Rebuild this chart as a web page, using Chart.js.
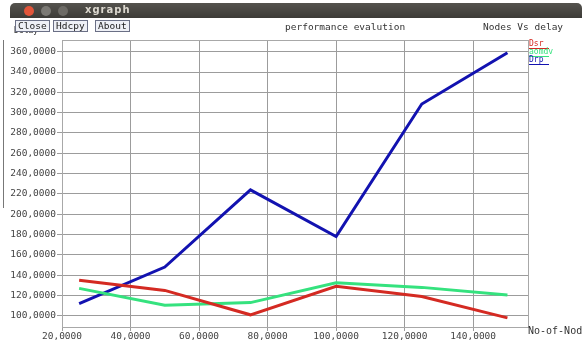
<!DOCTYPE html>
<html>
<head>
<meta charset="utf-8">
<script src="https://cdn.jsdelivr.net/npm/chart.js@4/dist/chart.umd.min.js"></script>
<style>
  html, body { margin: 0; padding: 0; background: #fff; }
  #wrap { position: relative; width: 582px; height: 342px; overflow: hidden; background: #fff; }
  #plot { position: absolute; left: 0; top: 0; }
  .mono { font-family: "DejaVu Sans Mono", monospace; font-size: 9.5px; color: #333; position: absolute; white-space: nowrap; }
  #titlebar { position: absolute; left: 10px; top: 3px; width: 572px; height: 15px;
    background: linear-gradient(#55534e, #3c3b37); border-radius: 5px 5px 0 0; }
  .dot { position: absolute; top: 3px; width: 10px; height: 10px; border-radius: 50%; }
  #appname { position: absolute; left: 75px; top: 1px; font: bold 10px "DejaVu Sans", sans-serif; color: #dcd8cf; letter-spacing: 1px; }
  .btn { position: absolute; top: 20px; height: 10px; border: 1px solid #6a6f85; background: #eef0f6;
    font-family: "DejaVu Sans Mono", monospace; font-size: 9.5px; line-height: 10px; color: #222; padding: 0 2px; z-index: 2; }
  .leg { position: absolute; left: 529px; font-family: "DejaVu Sans Mono", monospace; font-size: 8px; line-height: 8px; }
  .leg span { display: block; height: 1px; width: 20px; margin-top: 0; }
  #frame { position: absolute; left: 3px; top: 40px; width: 1px; height: 168px; background: #777; }
</style>
</head>
<body>
<div id="wrap">
  <canvas id="plot" width="582" height="342"></canvas>
  <div id="frame"></div>
  <div id="titlebar">
    <div class="dot" style="left:14px;background:#e2553a;"></div>
    <div class="dot" style="left:31px;background:#7b7974;"></div>
    <div class="dot" style="left:48px;background:#6c6a65;"></div>
    <div id="appname">xgraph</div>
  </div>
  <div class="btn" style="left:15px;">Close</div>
  <div class="btn" style="left:53px;">Hdcpy</div>
  <div class="btn" style="left:95px;">About</div>
  <div class="mono" style="left:14px;top:26px;font-size:8px;z-index:1;">Delay</div>
  <div class="mono" style="left:285px;top:21px;">performance evalution</div>
  <div class="mono" style="left:483px;top:21px;">Nodes Vs delay</div>
  <div class="mono" style="left:528px;top:325px;font-size:10px;">No-of-Nodes</div>
  <div id="legend"></div>
</div>
<script>
// x values (number of nodes) and delay series
const nodes = [25, 50, 75, 100, 125, 150];
const dsr = [135, 125, 101, 129, 119, 98];
const aomdv = [127, 110.5, 113, 132.5, 128, 120.5];
const drp = [112, 148, 224, 178, 308.5, 359];

const xTicks = [20, 40, 60, 80, 100, 120, 140];
const yTicks = [100, 120, 140, 160, 180, 200, 220, 240, 260, 280, 300, 320, 340, 360];

const seriesNames = ['Dsr', 'aomdv', 'Drp'];
const seriesColors = ['#d42a22', '#35e27e', '#1212b0'];

function toPoints(values) {
    return nodes.map((x, i) => ({ x: x, y: values[i] }));
}

// legend in the top right corner, xgraph style
const legend = document.getElementById('legend');
seriesNames.forEach((name, i) => {
    const item = document.createElement('div');
    item.className = 'leg';
    item.style.top = (40 + i * 8) + 'px';
    item.style.color = seriesColors[i];
    item.innerHTML = `${name}<span style="background:${seriesColors[i]}"></span>`;
    legend.appendChild(item);
});

// outline of the plot box (top and right edges)
const boxOutline = {
    id: 'boxOutline',
    beforeDatasetsDraw(chart) {
        const { ctx, chartArea: a } = chart;
        ctx.save();
        ctx.strokeStyle = '#a8a8a8';
        ctx.lineWidth = 1;
        ctx.strokeRect(a.left + 0.5, a.top + 0.5, a.right - a.left, a.bottom - a.top);
        ctx.restore();
    }
};

const tickFont = { family: "'DejaVu Sans Mono', monospace", size: 9.5 };

new Chart(document.getElementById('plot'), {
    type: 'line',
    data: {
        datasets: [dsr, aomdv, drp].map((values, i) => ({
            label: seriesNames[i],
            data: toPoints(values),
            borderColor: seriesColors[i],
            borderWidth: 3,
            pointRadius: 0,
            tension: 0,
            fill: false
        }))
    },
    options: {
        responsive: false,
        animation: false,
        layout: { padding: { top: 40, right: 54, left: 0, bottom: 0 } },
        plugins: { legend: { display: false }, tooltip: { enabled: false } },
        scales: {
            x: {
                type: 'linear',
                min: 20,
                max: 156,
                afterBuildTicks: scale => { scale.ticks = xTicks.map(v => ({ value: v })); },
                afterFit: scale => { scale.height = 15; },
                grid: { color: '#9c9c9c', lineWidth: 1, tickLength: 4 },
                border: { color: '#9c9c9c' },
                ticks: {
                    padding: 0,
                    color: '#444',
                    font: tickFont,
                    maxRotation: 0,
                    callback: v => v + ',0000'
                }
            },
            y: {
                min: 89,
                max: 371.5,
                afterBuildTicks: scale => { scale.ticks = yTicks.map(v => ({ value: v })); },
                afterFit: scale => { scale.width = 62; },
                grid: { color: '#9c9c9c', lineWidth: 1, tickLength: 5 },
                border: { color: '#9c9c9c' },
                ticks: {
                    padding: 1,
                    color: '#444',
                    font: tickFont,
                    callback: v => v + ',0000'
                }
            }
        }
    },
    plugins: [boxOutline]
});
</script>
</body>
</html>
